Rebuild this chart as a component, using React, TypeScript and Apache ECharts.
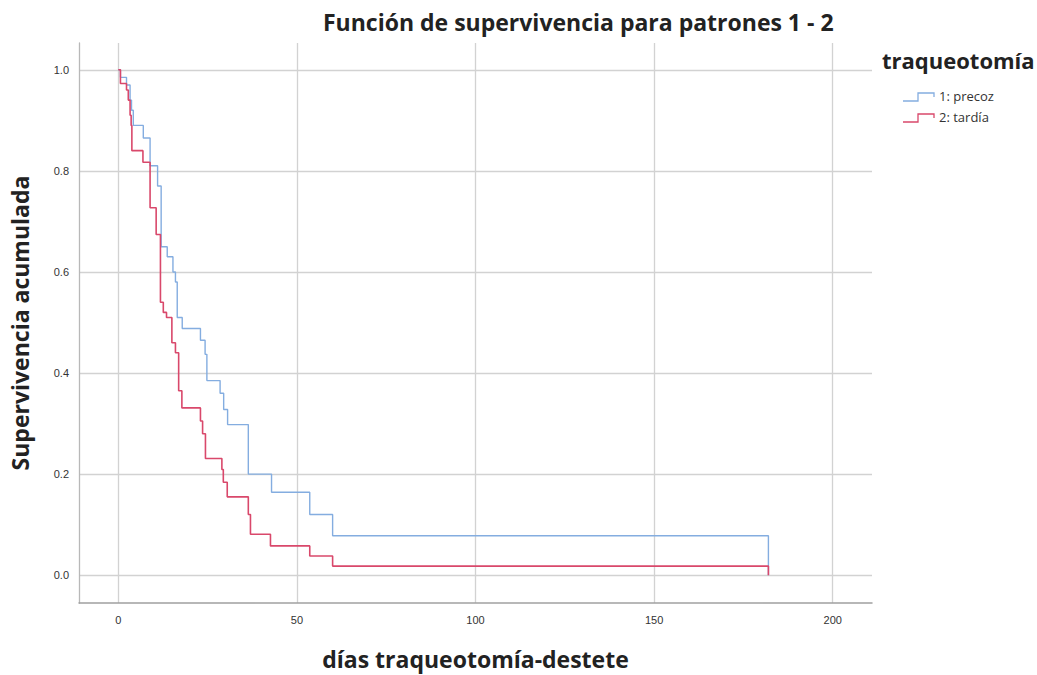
import React, { useEffect, useRef } from "react";
import * as echarts from "echarts";

const xTicks = [0, 50, 100, 150, 200];
const yTicks = [0, 0.2, 0.4, 0.6, 0.8, 1.0];

const seriesNames = ["1: precoz", "2: tardía"];

// step points: [día, supervivencia tras el evento]
const precoz: [number, number][] = [
  [0, 1.0], [0.6, 0.985], [2.3, 0.97], [3.3, 0.94], [3.7, 0.92], [4.2, 0.89],
  [7.0, 0.865], [8.9, 0.81], [11.0, 0.77], [12.0, 0.65], [13.7, 0.63],
  [15.3, 0.6], [16.0, 0.58], [16.5, 0.51], [17.9, 0.488], [23.0, 0.465],
  [24.3, 0.437], [24.8, 0.385], [28.5, 0.36], [29.5, 0.328], [30.6, 0.298],
  [36.4, 0.2], [42.9, 0.164], [53.6, 0.12], [60.0, 0.078], [182, 0.0],
];

const tardia: [number, number][] = [
  [0, 1.0], [0.6, 0.973], [2.3, 0.96], [2.8, 0.94], [3.3, 0.91], [3.6, 0.89],
  [3.8, 0.84], [6.9, 0.817], [8.9, 0.727], [10.6, 0.674], [11.8, 0.54],
  [12.6, 0.52], [13.5, 0.51], [15.0, 0.46], [16.0, 0.44], [16.9, 0.365],
  [17.8, 0.331], [23.0, 0.305], [23.6, 0.28], [24.4, 0.231], [29.0, 0.209],
  [29.4, 0.184], [30.5, 0.155], [36.4, 0.12], [37.0, 0.081], [42.6, 0.058],
  [53.6, 0.038], [60.0, 0.018], [182, 0.0],
];

const BLUE = "#84ade0";
const RED = "#d9486b";
const FONT = "'Open Sans', Lato, sans-serif";
const TICKFONT = "'Liberation Sans Narrow', 'Liberation Sans', sans-serif";

export default function App() {
  const ref = useRef<HTMLDivElement>(null);
  useEffect(() => {
    if (!ref.current) return;
    const chart = echarts.init(ref.current, undefined, { renderer: "svg" });
    const legendIcon = (y: number, color: string) => ({
      type: "polyline",
      shape: { points: [[903, y + 4], [918, y + 4], [918, y - 4], [934, y - 4], [934, y]] },
      style: { stroke: color, fill: "none", lineWidth: 1.3 },
    });
    chart.setOption({
      animation: false,
      backgroundColor: "#ffffff",
      title: [
        {
          text: "Función de supervivencia para patrones 1 - 2",
          left: 318,
          top: 5,
          textStyle: { fontFamily: FONT, fontWeight: "bold", fontSize: 23, color: "#222" },
        },
      ],
      grid: { left: 78, right: 165, top: 43, bottom: 71, containLabel: false },
      xAxis: {
        type: "value",
        min: -11,
        max: 211,
        name: "días traqueotomía-destete",
        nameLocation: "middle",
        nameGap: 44,
        nameTextStyle: { fontFamily: FONT, fontWeight: "bold", fontSize: 23, color: "#222" },
        axisLine: { show: true, onZero: false, lineStyle: { color: "#a0a0a0", width: 1.5 } },
        axisTick: { show: false, customValues: xTicks },
        axisLabel: {
          customValues: xTicks,
          margin: 11,
          fontFamily: TICKFONT,
          fontSize: 11,
          color: "#333",
        },
        splitLine: { show: true, lineStyle: { color: "#d2d2d2", width: 1.3 } },
      },
      yAxis: {
        type: "value",
        min: -0.055,
        max: 1.053,
        name: "Supervivencia acumulada",
        nameLocation: "middle",
        nameGap: 48,
        nameRotate: 90,
        nameTextStyle: { fontFamily: FONT, fontWeight: "bold", fontSize: 23, color: "#222" },
        axisLine: { show: true, onZero: false, lineStyle: { color: "#b8b8b8", width: 1.3 } },
        axisTick: { show: false, customValues: yTicks },
        axisLabel: {
          customValues: yTicks,
          margin: 10,
          formatter: (v: number) => v.toFixed(1),
          fontFamily: TICKFONT,
          fontSize: 11,
          color: "#333",
        },
        splitLine: { show: true, lineStyle: { color: "#d2d2d2", width: 1.3 } },
      },
      series: [
        {
          name: seriesNames[0],
          type: "line",
          step: "end",
          data: precoz,
          showSymbol: false,
          symbol: "none",
          lineStyle: { color: BLUE, width: 1.4 },
          z: 3,
        },
        {
          name: seriesNames[1],
          type: "line",
          step: "end",
          data: tardia,
          showSymbol: false,
          symbol: "none",
          lineStyle: { color: RED, width: 1.6 },
          z: 4,
        },
      ],
      graphic: [
        {
          type: "text",
          left: 882,
          top: 49,
          style: {
            text: "traqueotomía",
            fontFamily: FONT,
            fontWeight: "bold",
            fontSize: 22,
            fill: "#222",
          },
        },
        legendIcon(97, BLUE),
        {
          type: "text",
          left: 939,
          top: 89,
          style: { text: seriesNames[0], fontFamily: FONT, fontSize: 13, fill: "#333" },
        },
        legendIcon(118, RED),
        {
          type: "text",
          left: 939,
          top: 110,
          style: { text: seriesNames[1], fontFamily: FONT, fontSize: 13, fill: "#333" },
        },
      ],
    });
    return () => chart.dispose();
  }, []);
  return (
    <div
      ref={ref}
      style={{ position: "fixed", left: 0, top: 0, width: 1037, height: 675 }}
    />
  );
}
